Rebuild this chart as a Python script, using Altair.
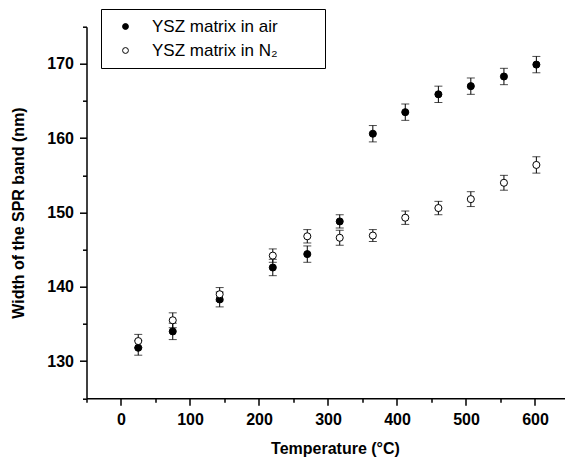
import altair as alt
import pandas as pd

temps = [25, 75, 143, 220, 270, 317, 365, 412, 460, 507, 555, 602]
air = [131.8, 134.0, 138.3, 142.6, 144.4, 148.8, 160.6, 163.5, 165.9, 167.0, 168.3, 169.9]
air_err = [1.0, 1.1, 1.0, 1.1, 1.1, 0.9, 1.1, 1.1, 1.1, 1.1, 1.1, 1.1]
n2 = [132.7, 135.5, 139.0, 144.2, 146.8, 146.6, 146.9, 149.3, 150.6, 151.8, 154.0, 156.4]
n2_err = [0.9, 1.0, 0.9, 0.9, 0.9, 1.0, 0.8, 0.9, 0.9, 1.0, 1.0, 1.1]
series_names = ["YSZ matrix in air", "YSZ matrix in N\u2082"]
x_major = [0, 100, 200, 300, 400, 500, 600]
x_minor = [-50, 50, 150, 250, 350, 450, 550]
y_major = [130, 140, 150, 160, 170]
y_minor = [125, 135, 145, 155, 165, 175]

rows = []
for t, v, e in zip(temps, air, air_err):
    rows.append({"temp": t, "series": series_names[0], "value": v, "err": e})
for t, v, e in zip(temps, n2, n2_err):
    rows.append({"temp": t, "series": series_names[1], "value": v, "err": e})
df = pd.DataFrame(rows)

FONT = "Liberation Sans"

x_scale = alt.Scale(domain=[-50, 643.5], nice=False, zero=False)
y_scale = alt.Scale(domain=[125, 175], nice=False, zero=False)

x_axis_major = alt.Axis(
    title="Temperature (\u00b0C)",
    values=x_major,
    tickSize=7,
    labelOverlap=False,
    labelPadding=6,
    titleX=248.5,
    titleY=55,
    titleBaseline="alphabetic",
    titleLimit=1000,
)
y_axis_major = alt.Axis(
    title="Width of the SPR band (nm)",
    values=y_major,
    tickSize=7,
    labelOverlap=False,
    labelPadding=6,
    titleX=-63.5,
    titleY=185.8,
    titleBaseline="alphabetic",
    titleAngle=-90,
    titleLimit=1000,
)
x_axis_minor = alt.Axis(
    title=None, values=x_minor, tickSize=4, labels=False, domain=False, orient="bottom"
)
y_axis_minor = alt.Axis(
    title=None, values=y_minor, tickSize=4, labels=False, domain=False, orient="left"
)

base = alt.Chart(df).transform_calculate(
    lo="datum.value - datum.err", hi="datum.value + datum.err"
)

rules = base.mark_rule(color="black", strokeWidth=1).encode(
    x=alt.X("temp:Q", scale=x_scale, axis=x_axis_major),
    y=alt.Y("lo:Q", scale=y_scale, axis=y_axis_major),
    y2="hi:Q",
)
cap_lo = base.mark_tick(orient="horizontal", size=8, thickness=1, color="black").encode(
    x=alt.X("temp:Q", scale=x_scale, axis=x_axis_minor),
    y=alt.Y("lo:Q", scale=y_scale, axis=y_axis_minor),
)
cap_hi = base.mark_tick(orient="horizontal", size=8, thickness=1, color="black").encode(
    x=alt.X("temp:Q", scale=x_scale, axis=None),
    y=alt.Y("hi:Q", scale=y_scale, axis=None),
)
points = base.mark_point(filled=True, size=50, stroke="black", strokeWidth=1, opacity=1).encode(
    x=alt.X("temp:Q", scale=x_scale, axis=None),
    y=alt.Y("value:Q", scale=y_scale, axis=None),
    fill=alt.Fill(
        "series:N",
        scale=alt.Scale(domain=series_names, range=["black", "white"]),
        legend=alt.Legend(
            title="nnnn",
            titleOrient="right",
            titleColor="transparent",
            titleFont=FONT,
            titleFontSize=17,
            titleFontWeight="normal",
            titlePadding=0,
            orient="none",
            legendX=14.5,
            legendY=-17.7,
            strokeColor="black",
            padding=9,
            symbolOffset=7,
            labelOffset=18,
            symbolType="circle",
            symbolSize=34,
            symbolStrokeColor="black",
            symbolStrokeWidth=1,
            labelFont=FONT,
            labelFontSize=17,
            labelColor="black",
            rowPadding=6,
            labelLimit=400,
        ),
    ),
)

chart = (
    alt.layer(rules, cap_lo, cap_hi, points)
    .resolve_axis(x="independent", y="independent")
    .properties(
        width=478.5,
        height=371.6,
        padding={"left": 86.5, "top": 26.7, "right": 0, "bottom": 65.7},
        autosize=alt.AutoSizeParams(type="none"),
        background="white",
    )
    .configure_view(stroke=None)
    .configure_axis(
        grid=False,
        domainColor="black",
        domainWidth=1.5,
        tickColor="black",
        tickWidth=1.5,
        labelFont=FONT,
        labelFontSize=16,
        labelFontWeight="bold",
        labelColor="black",
        titleFont=FONT,
        titleFontSize=16,
        titleFontWeight="bold",
        titleColor="black",
    )
)

chart.save("out.html", embed_options={"renderer": "svg", "actions": False})
